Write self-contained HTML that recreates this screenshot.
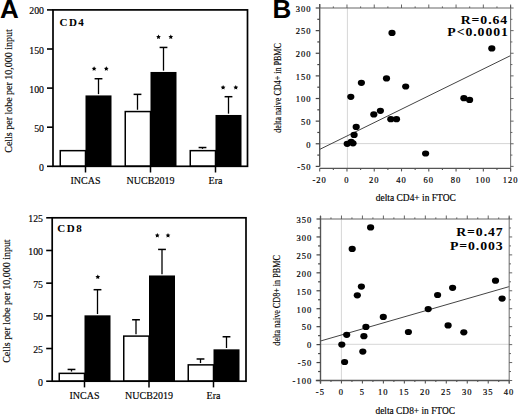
<!DOCTYPE html>
<html><head><meta charset="utf-8"><style>
html,body{margin:0;padding:0;background:#fff;width:520px;height:415px;overflow:hidden}
svg{display:block}
</style></head><body>
<svg width="520" height="415" viewBox="0 0 520 415">
<rect width="520" height="415" fill="#fff"/>
<text x="0.00" y="18.00" text-anchor="start" style="font-family:'Liberation Sans',sans-serif;font-size:26px;font-weight:700" fill="#000">A</text>
<text x="272.60" y="18.20" text-anchor="start" style="font-family:'Liberation Sans',sans-serif;font-size:26px;font-weight:700" fill="#000">B</text>
<line x1="98.50" y1="94.12" x2="98.50" y2="78.72" stroke="#000" stroke-width="1.3"/>
<line x1="94.60" y1="78.72" x2="102.40" y2="78.72" stroke="#000" stroke-width="1.5"/>
<rect x="60.25" y="150.66" width="25.25" height="15.64" fill="#fff" stroke="#000" stroke-width="1.5"/>
<rect x="85.50" y="95.42" width="26.00" height="70.88" fill="#000"/>
<line x1="85.50" y1="166.30" x2="85.50" y2="172.50" stroke="#000" stroke-width="1.5"/>
<text x="85.50" y="183.80" text-anchor="middle" style="font-family:'Liberation Serif',serif;font-size:10px;font-weight:400" fill="#000" stroke="#000" stroke-width="0.15">INCAS</text>
<line x1="137.50" y1="109.76" x2="137.50" y2="94.36" stroke="#000" stroke-width="1.3"/>
<line x1="133.60" y1="94.36" x2="141.40" y2="94.36" stroke="#000" stroke-width="1.5"/>
<line x1="163.50" y1="70.66" x2="163.50" y2="47.44" stroke="#000" stroke-width="1.3"/>
<line x1="159.60" y1="47.44" x2="167.40" y2="47.44" stroke="#000" stroke-width="1.5"/>
<rect x="125.25" y="111.56" width="25.25" height="54.74" fill="#fff" stroke="#000" stroke-width="1.5"/>
<rect x="150.50" y="71.96" width="26.00" height="94.34" fill="#000"/>
<line x1="150.50" y1="166.30" x2="150.50" y2="172.50" stroke="#000" stroke-width="1.5"/>
<text x="150.50" y="183.80" text-anchor="middle" style="font-family:'Liberation Serif',serif;font-size:10px;font-weight:400" fill="#000" stroke="#000" stroke-width="0.15">NUCB2019</text>
<line x1="202.50" y1="148.86" x2="202.50" y2="147.53" stroke="#000" stroke-width="1.3"/>
<line x1="198.60" y1="147.53" x2="206.40" y2="147.53" stroke="#000" stroke-width="1.5"/>
<line x1="228.50" y1="113.67" x2="228.50" y2="96.70" stroke="#000" stroke-width="1.3"/>
<line x1="224.60" y1="96.70" x2="232.40" y2="96.70" stroke="#000" stroke-width="1.5"/>
<rect x="190.25" y="150.66" width="25.25" height="15.64" fill="#fff" stroke="#000" stroke-width="1.5"/>
<rect x="215.50" y="114.97" width="26.00" height="51.33" fill="#000"/>
<line x1="215.50" y1="166.30" x2="215.50" y2="172.50" stroke="#000" stroke-width="1.5"/>
<text x="215.50" y="183.80" text-anchor="middle" style="font-family:'Liberation Serif',serif;font-size:10px;font-weight:400" fill="#000" stroke="#000" stroke-width="0.15">Era</text>
<polygon points="94.10,66.20 94.83,67.69 96.48,67.93 95.29,69.09 95.57,70.72 94.10,69.95 92.63,70.72 92.91,69.09 91.72,67.93 93.37,67.69" fill="#000"/>
<polygon points="106.30,66.20 107.03,67.69 108.68,67.93 107.49,69.09 107.77,70.72 106.30,69.95 104.83,70.72 105.11,69.09 103.92,67.93 105.57,67.69" fill="#000"/>
<polygon points="158.50,34.40 159.23,35.89 160.88,36.13 159.69,37.29 159.97,38.92 158.50,38.15 157.03,38.92 157.31,37.29 156.12,36.13 157.77,35.89" fill="#000"/>
<polygon points="170.80,34.40 171.53,35.89 173.18,36.13 171.99,37.29 172.27,38.92 170.80,38.15 169.33,38.92 169.61,37.29 168.42,36.13 170.07,35.89" fill="#000"/>
<polygon points="223.10,85.10 223.83,86.59 225.48,86.83 224.29,87.99 224.57,89.62 223.10,88.85 221.63,89.62 221.91,87.99 220.72,86.83 222.37,86.59" fill="#000"/>
<polygon points="235.80,85.10 236.53,86.59 238.18,86.83 236.99,87.99 237.27,89.62 235.80,88.85 234.33,89.62 234.61,87.99 233.42,86.83 235.07,86.59" fill="#000"/>
<rect x="53.00" y="9.90" width="194.50" height="156.40" fill="none" stroke="#000" stroke-width="1.7"/>
<line x1="47.00" y1="166.30" x2="53.00" y2="166.30" stroke="#000" stroke-width="1.6"/>
<text x="44.00" y="170.80" text-anchor="end" style="font-family:'Liberation Serif',serif;font-size:9.8px;font-weight:400" fill="#000" stroke="#000" stroke-width="0.15">0</text>
<line x1="47.00" y1="127.20" x2="53.00" y2="127.20" stroke="#000" stroke-width="1.6"/>
<text x="44.00" y="131.70" text-anchor="end" style="font-family:'Liberation Serif',serif;font-size:9.8px;font-weight:400" fill="#000" stroke="#000" stroke-width="0.15">50</text>
<line x1="47.00" y1="88.10" x2="53.00" y2="88.10" stroke="#000" stroke-width="1.6"/>
<text x="44.00" y="92.60" text-anchor="end" style="font-family:'Liberation Serif',serif;font-size:9.8px;font-weight:400" fill="#000" stroke="#000" stroke-width="0.15">100</text>
<line x1="47.00" y1="49.00" x2="53.00" y2="49.00" stroke="#000" stroke-width="1.6"/>
<text x="44.00" y="53.50" text-anchor="end" style="font-family:'Liberation Serif',serif;font-size:9.8px;font-weight:400" fill="#000" stroke="#000" stroke-width="0.15">150</text>
<line x1="47.00" y1="9.90" x2="53.00" y2="9.90" stroke="#000" stroke-width="1.6"/>
<text x="44.00" y="14.40" text-anchor="end" style="font-family:'Liberation Serif',serif;font-size:9.8px;font-weight:400" fill="#000" stroke="#000" stroke-width="0.15">200</text>
<text x="59.50" y="26.20" text-anchor="start" style="font-family:'Liberation Serif',serif;font-size:11px;font-weight:700" fill="#000" textLength="24.3" lengthAdjust="spacing">CD4</text>
<text transform="translate(12.20,91.00) rotate(-90)" x="0" y="0" text-anchor="middle" style="font-family:'Liberation Serif',serif;font-size:10px" fill="#000" stroke="#000" stroke-width="0.15" textLength="123.5" lengthAdjust="spacingAndGlyphs">Cells per lobe per 10,000 input</text>
<line x1="71.50" y1="371.56" x2="71.50" y2="369.44" stroke="#000" stroke-width="1.3"/>
<line x1="67.60" y1="369.44" x2="75.40" y2="369.44" stroke="#000" stroke-width="1.5"/>
<line x1="97.50" y1="314.04" x2="97.50" y2="289.70" stroke="#000" stroke-width="1.3"/>
<line x1="93.60" y1="289.70" x2="101.40" y2="289.70" stroke="#000" stroke-width="1.5"/>
<rect x="59.25" y="373.36" width="25.25" height="7.84" fill="#fff" stroke="#000" stroke-width="1.5"/>
<rect x="84.50" y="315.34" width="26.00" height="65.86" fill="#000"/>
<line x1="84.50" y1="381.20" x2="84.50" y2="387.40" stroke="#000" stroke-width="1.5"/>
<text x="84.50" y="399.40" text-anchor="middle" style="font-family:'Liberation Serif',serif;font-size:10px;font-weight:400" fill="#000" stroke="#000" stroke-width="0.15">INCAS</text>
<line x1="136.00" y1="334.30" x2="136.00" y2="319.76" stroke="#000" stroke-width="1.3"/>
<line x1="132.10" y1="319.76" x2="139.90" y2="319.76" stroke="#000" stroke-width="1.5"/>
<line x1="162.00" y1="274.17" x2="162.00" y2="249.43" stroke="#000" stroke-width="1.3"/>
<line x1="158.10" y1="249.43" x2="165.90" y2="249.43" stroke="#000" stroke-width="1.5"/>
<rect x="123.75" y="336.10" width="25.25" height="45.10" fill="#fff" stroke="#000" stroke-width="1.5"/>
<rect x="149.00" y="275.47" width="26.00" height="105.73" fill="#000"/>
<line x1="149.00" y1="381.20" x2="149.00" y2="387.40" stroke="#000" stroke-width="1.5"/>
<text x="149.00" y="399.40" text-anchor="middle" style="font-family:'Liberation Serif',serif;font-size:10px;font-weight:400" fill="#000" stroke="#000" stroke-width="0.15">NUCB2019</text>
<line x1="200.50" y1="363.06" x2="200.50" y2="358.98" stroke="#000" stroke-width="1.3"/>
<line x1="196.60" y1="358.98" x2="204.40" y2="358.98" stroke="#000" stroke-width="1.5"/>
<line x1="226.50" y1="348.03" x2="226.50" y2="336.76" stroke="#000" stroke-width="1.3"/>
<line x1="222.60" y1="336.76" x2="230.40" y2="336.76" stroke="#000" stroke-width="1.5"/>
<rect x="188.25" y="364.86" width="25.25" height="16.34" fill="#fff" stroke="#000" stroke-width="1.5"/>
<rect x="213.50" y="349.33" width="26.00" height="31.87" fill="#000"/>
<line x1="213.50" y1="381.20" x2="213.50" y2="387.40" stroke="#000" stroke-width="1.5"/>
<text x="213.50" y="399.40" text-anchor="middle" style="font-family:'Liberation Serif',serif;font-size:10px;font-weight:400" fill="#000" stroke="#000" stroke-width="0.15">Era</text>
<polygon points="97.80,274.50 98.53,275.99 100.18,276.23 98.99,277.39 99.27,279.02 97.80,278.25 96.33,279.02 96.61,277.39 95.42,276.23 97.07,275.99" fill="#000"/>
<polygon points="157.30,232.90 158.03,234.39 159.68,234.63 158.49,235.79 158.77,237.42 157.30,236.65 155.83,237.42 156.11,235.79 154.92,234.63 156.57,234.39" fill="#000"/>
<polygon points="168.00,232.90 168.73,234.39 170.38,234.63 169.19,235.79 169.47,237.42 168.00,236.65 166.53,237.42 166.81,235.79 165.62,234.63 167.27,234.39" fill="#000"/>
<rect x="52.20" y="217.80" width="193.80" height="163.40" fill="none" stroke="#000" stroke-width="1.7"/>
<line x1="46.20" y1="381.20" x2="52.20" y2="381.20" stroke="#000" stroke-width="1.6"/>
<text x="43.00" y="385.70" text-anchor="end" style="font-family:'Liberation Serif',serif;font-size:9.8px;font-weight:400" fill="#000" stroke="#000" stroke-width="0.15">0</text>
<line x1="46.20" y1="348.52" x2="52.20" y2="348.52" stroke="#000" stroke-width="1.6"/>
<text x="43.00" y="353.02" text-anchor="end" style="font-family:'Liberation Serif',serif;font-size:9.8px;font-weight:400" fill="#000" stroke="#000" stroke-width="0.15">25</text>
<line x1="46.20" y1="315.84" x2="52.20" y2="315.84" stroke="#000" stroke-width="1.6"/>
<text x="43.00" y="320.34" text-anchor="end" style="font-family:'Liberation Serif',serif;font-size:9.8px;font-weight:400" fill="#000" stroke="#000" stroke-width="0.15">50</text>
<line x1="46.20" y1="283.16" x2="52.20" y2="283.16" stroke="#000" stroke-width="1.6"/>
<text x="43.00" y="287.66" text-anchor="end" style="font-family:'Liberation Serif',serif;font-size:9.8px;font-weight:400" fill="#000" stroke="#000" stroke-width="0.15">75</text>
<line x1="46.20" y1="250.48" x2="52.20" y2="250.48" stroke="#000" stroke-width="1.6"/>
<text x="43.00" y="254.98" text-anchor="end" style="font-family:'Liberation Serif',serif;font-size:9.8px;font-weight:400" fill="#000" stroke="#000" stroke-width="0.15">100</text>
<line x1="46.20" y1="217.80" x2="52.20" y2="217.80" stroke="#000" stroke-width="1.6"/>
<text x="43.00" y="222.30" text-anchor="end" style="font-family:'Liberation Serif',serif;font-size:9.8px;font-weight:400" fill="#000" stroke="#000" stroke-width="0.15">125</text>
<text x="57.30" y="231.50" text-anchor="start" style="font-family:'Liberation Serif',serif;font-size:11px;font-weight:700" fill="#000" textLength="24.5" lengthAdjust="spacing">CD8</text>
<text transform="translate(9.60,301.10) rotate(-90)" x="0" y="0" text-anchor="middle" style="font-family:'Liberation Serif',serif;font-size:10px" fill="#000" stroke="#000" stroke-width="0.15" textLength="123.5" lengthAdjust="spacingAndGlyphs">Cells per lobe per 10,000 input</text>
<line x1="347.40" y1="8.00" x2="347.40" y2="168.40" stroke="#d6d6d6" stroke-width="1"/>
<line x1="319.70" y1="143.60" x2="510.60" y2="143.60" stroke="#d6d6d6" stroke-width="1"/>
<line x1="319.70" y1="149.40" x2="510.60" y2="55.60" stroke="#444" stroke-width="1"/>
<ellipse cx="392.00" cy="32.90" rx="3.6" ry="3.1" fill="#000"/>
<ellipse cx="361.40" cy="82.80" rx="3.6" ry="3.1" fill="#000"/>
<ellipse cx="386.50" cy="78.40" rx="3.6" ry="3.1" fill="#000"/>
<ellipse cx="405.70" cy="86.50" rx="3.6" ry="3.1" fill="#000"/>
<ellipse cx="350.80" cy="96.80" rx="3.6" ry="3.1" fill="#000"/>
<ellipse cx="373.80" cy="114.40" rx="3.6" ry="3.1" fill="#000"/>
<ellipse cx="380.40" cy="110.80" rx="3.6" ry="3.1" fill="#000"/>
<ellipse cx="390.80" cy="119.20" rx="3.6" ry="3.1" fill="#000"/>
<ellipse cx="396.50" cy="119.20" rx="3.6" ry="3.1" fill="#000"/>
<ellipse cx="356.20" cy="126.90" rx="3.6" ry="3.1" fill="#000"/>
<ellipse cx="354.10" cy="134.90" rx="3.6" ry="3.1" fill="#000"/>
<ellipse cx="347.20" cy="143.80" rx="3.6" ry="3.1" fill="#000"/>
<ellipse cx="351.20" cy="141.90" rx="3.6" ry="3.1" fill="#000"/>
<ellipse cx="353.00" cy="143.30" rx="3.6" ry="3.1" fill="#000"/>
<ellipse cx="425.60" cy="153.50" rx="3.6" ry="3.1" fill="#000"/>
<ellipse cx="491.80" cy="48.40" rx="3.6" ry="3.1" fill="#000"/>
<ellipse cx="463.90" cy="98.20" rx="3.6" ry="3.1" fill="#000"/>
<ellipse cx="469.60" cy="99.90" rx="3.6" ry="3.1" fill="#000"/>
<line x1="319.70" y1="4.00" x2="319.70" y2="166.40" stroke="#555" stroke-width="1.4"/>
<line x1="319.70" y1="8.00" x2="510.60" y2="8.00" stroke="#666" stroke-width="1.2"/>
<line x1="510.60" y1="5.50" x2="510.60" y2="171.40" stroke="#777" stroke-width="1.1"/>
<line x1="319.50" y1="168.40" x2="510.60" y2="168.40" stroke="#555" stroke-width="1.4"/>
<line x1="315.70" y1="166.40" x2="319.70" y2="166.40" stroke="#444" stroke-width="1.2"/>
<line x1="510.60" y1="166.40" x2="513.60" y2="166.40" stroke="#555" stroke-width="0.9"/>
<text x="311.50" y="170.20" text-anchor="end" style="font-family:'Liberation Serif',serif;font-size:8.5px;font-weight:400;letter-spacing:1.0px" fill="#000" stroke="#000" stroke-width="0.18">-50</text>
<line x1="317.30" y1="155.09" x2="319.70" y2="155.09" stroke="#444" stroke-width="1.2"/>
<line x1="510.60" y1="155.09" x2="512.40" y2="155.09" stroke="#555" stroke-width="0.9"/>
<line x1="315.70" y1="143.77" x2="319.70" y2="143.77" stroke="#444" stroke-width="1.2"/>
<line x1="510.60" y1="143.77" x2="513.60" y2="143.77" stroke="#555" stroke-width="0.9"/>
<text x="311.50" y="147.57" text-anchor="end" style="font-family:'Liberation Serif',serif;font-size:8.5px;font-weight:400;letter-spacing:1.0px" fill="#000" stroke="#000" stroke-width="0.18">0</text>
<line x1="317.30" y1="132.46" x2="319.70" y2="132.46" stroke="#444" stroke-width="1.2"/>
<line x1="510.60" y1="132.46" x2="512.40" y2="132.46" stroke="#555" stroke-width="0.9"/>
<line x1="315.70" y1="121.14" x2="319.70" y2="121.14" stroke="#444" stroke-width="1.2"/>
<line x1="510.60" y1="121.14" x2="513.60" y2="121.14" stroke="#555" stroke-width="0.9"/>
<text x="311.50" y="124.94" text-anchor="end" style="font-family:'Liberation Serif',serif;font-size:8.5px;font-weight:400;letter-spacing:1.0px" fill="#000" stroke="#000" stroke-width="0.18">50</text>
<line x1="317.30" y1="109.83" x2="319.70" y2="109.83" stroke="#444" stroke-width="1.2"/>
<line x1="510.60" y1="109.83" x2="512.40" y2="109.83" stroke="#555" stroke-width="0.9"/>
<line x1="315.70" y1="98.51" x2="319.70" y2="98.51" stroke="#444" stroke-width="1.2"/>
<line x1="510.60" y1="98.51" x2="513.60" y2="98.51" stroke="#555" stroke-width="0.9"/>
<text x="311.50" y="102.31" text-anchor="end" style="font-family:'Liberation Serif',serif;font-size:8.5px;font-weight:400;letter-spacing:1.0px" fill="#000" stroke="#000" stroke-width="0.18">100</text>
<line x1="317.30" y1="87.20" x2="319.70" y2="87.20" stroke="#444" stroke-width="1.2"/>
<line x1="510.60" y1="87.20" x2="512.40" y2="87.20" stroke="#555" stroke-width="0.9"/>
<line x1="315.70" y1="75.89" x2="319.70" y2="75.89" stroke="#444" stroke-width="1.2"/>
<line x1="510.60" y1="75.89" x2="513.60" y2="75.89" stroke="#555" stroke-width="0.9"/>
<text x="311.50" y="79.69" text-anchor="end" style="font-family:'Liberation Serif',serif;font-size:8.5px;font-weight:400;letter-spacing:1.0px" fill="#000" stroke="#000" stroke-width="0.18">150</text>
<line x1="317.30" y1="64.57" x2="319.70" y2="64.57" stroke="#444" stroke-width="1.2"/>
<line x1="510.60" y1="64.57" x2="512.40" y2="64.57" stroke="#555" stroke-width="0.9"/>
<line x1="315.70" y1="53.26" x2="319.70" y2="53.26" stroke="#444" stroke-width="1.2"/>
<line x1="510.60" y1="53.26" x2="513.60" y2="53.26" stroke="#555" stroke-width="0.9"/>
<text x="311.50" y="57.06" text-anchor="end" style="font-family:'Liberation Serif',serif;font-size:8.5px;font-weight:400;letter-spacing:1.0px" fill="#000" stroke="#000" stroke-width="0.18">200</text>
<line x1="317.30" y1="41.94" x2="319.70" y2="41.94" stroke="#444" stroke-width="1.2"/>
<line x1="510.60" y1="41.94" x2="512.40" y2="41.94" stroke="#555" stroke-width="0.9"/>
<line x1="315.70" y1="30.63" x2="319.70" y2="30.63" stroke="#444" stroke-width="1.2"/>
<line x1="510.60" y1="30.63" x2="513.60" y2="30.63" stroke="#555" stroke-width="0.9"/>
<text x="311.50" y="34.43" text-anchor="end" style="font-family:'Liberation Serif',serif;font-size:8.5px;font-weight:400;letter-spacing:1.0px" fill="#000" stroke="#000" stroke-width="0.18">250</text>
<line x1="317.30" y1="19.31" x2="319.70" y2="19.31" stroke="#444" stroke-width="1.2"/>
<line x1="510.60" y1="19.31" x2="512.40" y2="19.31" stroke="#555" stroke-width="0.9"/>
<line x1="315.70" y1="8.00" x2="319.70" y2="8.00" stroke="#444" stroke-width="1.2"/>
<line x1="510.60" y1="8.00" x2="513.60" y2="8.00" stroke="#555" stroke-width="0.9"/>
<text x="311.50" y="11.80" text-anchor="end" style="font-family:'Liberation Serif',serif;font-size:8.5px;font-weight:400;letter-spacing:1.0px" fill="#000" stroke="#000" stroke-width="0.18">300</text>
<line x1="319.70" y1="168.40" x2="319.70" y2="171.40" stroke="#555" stroke-width="1.1"/>
<line x1="319.70" y1="8.00" x2="319.70" y2="4.50" stroke="#555" stroke-width="0.9"/>
<text x="319.60" y="183.10" text-anchor="middle" style="font-family:'Liberation Serif',serif;font-size:8.5px;font-weight:400;letter-spacing:1.0px" fill="#000" stroke="#000" stroke-width="0.18">-20</text>
<line x1="333.34" y1="168.40" x2="333.34" y2="170.00" stroke="#555" stroke-width="1.1"/>
<line x1="333.34" y1="8.00" x2="333.34" y2="6.40" stroke="#555" stroke-width="0.9"/>
<line x1="346.97" y1="168.40" x2="346.97" y2="171.40" stroke="#555" stroke-width="1.1"/>
<line x1="346.97" y1="8.00" x2="346.97" y2="4.50" stroke="#555" stroke-width="0.9"/>
<text x="346.87" y="183.10" text-anchor="middle" style="font-family:'Liberation Serif',serif;font-size:8.5px;font-weight:400;letter-spacing:1.0px" fill="#000" stroke="#000" stroke-width="0.18">0</text>
<line x1="360.61" y1="168.40" x2="360.61" y2="170.00" stroke="#555" stroke-width="1.1"/>
<line x1="360.61" y1="8.00" x2="360.61" y2="6.40" stroke="#555" stroke-width="0.9"/>
<line x1="374.24" y1="168.40" x2="374.24" y2="171.40" stroke="#555" stroke-width="1.1"/>
<line x1="374.24" y1="8.00" x2="374.24" y2="4.50" stroke="#555" stroke-width="0.9"/>
<text x="374.14" y="183.10" text-anchor="middle" style="font-family:'Liberation Serif',serif;font-size:8.5px;font-weight:400;letter-spacing:1.0px" fill="#000" stroke="#000" stroke-width="0.18">20</text>
<line x1="387.88" y1="168.40" x2="387.88" y2="170.00" stroke="#555" stroke-width="1.1"/>
<line x1="387.88" y1="8.00" x2="387.88" y2="6.40" stroke="#555" stroke-width="0.9"/>
<line x1="401.51" y1="168.40" x2="401.51" y2="171.40" stroke="#555" stroke-width="1.1"/>
<line x1="401.51" y1="8.00" x2="401.51" y2="4.50" stroke="#555" stroke-width="0.9"/>
<text x="401.41" y="183.10" text-anchor="middle" style="font-family:'Liberation Serif',serif;font-size:8.5px;font-weight:400;letter-spacing:1.0px" fill="#000" stroke="#000" stroke-width="0.18">40</text>
<line x1="415.15" y1="168.40" x2="415.15" y2="170.00" stroke="#555" stroke-width="1.1"/>
<line x1="415.15" y1="8.00" x2="415.15" y2="6.40" stroke="#555" stroke-width="0.9"/>
<line x1="428.79" y1="168.40" x2="428.79" y2="171.40" stroke="#555" stroke-width="1.1"/>
<line x1="428.79" y1="8.00" x2="428.79" y2="4.50" stroke="#555" stroke-width="0.9"/>
<text x="428.69" y="183.10" text-anchor="middle" style="font-family:'Liberation Serif',serif;font-size:8.5px;font-weight:400;letter-spacing:1.0px" fill="#000" stroke="#000" stroke-width="0.18">60</text>
<line x1="442.42" y1="168.40" x2="442.42" y2="170.00" stroke="#555" stroke-width="1.1"/>
<line x1="442.42" y1="8.00" x2="442.42" y2="6.40" stroke="#555" stroke-width="0.9"/>
<line x1="456.06" y1="168.40" x2="456.06" y2="171.40" stroke="#555" stroke-width="1.1"/>
<line x1="456.06" y1="8.00" x2="456.06" y2="4.50" stroke="#555" stroke-width="0.9"/>
<text x="455.96" y="183.10" text-anchor="middle" style="font-family:'Liberation Serif',serif;font-size:8.5px;font-weight:400;letter-spacing:1.0px" fill="#000" stroke="#000" stroke-width="0.18">80</text>
<line x1="469.69" y1="168.40" x2="469.69" y2="170.00" stroke="#555" stroke-width="1.1"/>
<line x1="469.69" y1="8.00" x2="469.69" y2="6.40" stroke="#555" stroke-width="0.9"/>
<line x1="483.33" y1="168.40" x2="483.33" y2="171.40" stroke="#555" stroke-width="1.1"/>
<line x1="483.33" y1="8.00" x2="483.33" y2="4.50" stroke="#555" stroke-width="0.9"/>
<text x="483.23" y="183.10" text-anchor="middle" style="font-family:'Liberation Serif',serif;font-size:8.5px;font-weight:400;letter-spacing:1.0px" fill="#000" stroke="#000" stroke-width="0.18">100</text>
<line x1="496.96" y1="168.40" x2="496.96" y2="170.00" stroke="#555" stroke-width="1.1"/>
<line x1="496.96" y1="8.00" x2="496.96" y2="6.40" stroke="#555" stroke-width="0.9"/>
<line x1="510.60" y1="168.40" x2="510.60" y2="171.40" stroke="#555" stroke-width="1.1"/>
<line x1="510.60" y1="8.00" x2="510.60" y2="4.50" stroke="#555" stroke-width="0.9"/>
<text x="510.50" y="183.10" text-anchor="middle" style="font-family:'Liberation Serif',serif;font-size:8.5px;font-weight:400;letter-spacing:1.0px" fill="#000" stroke="#000" stroke-width="0.18">120</text>
<text x="375.70" y="200.80" text-anchor="start" style="font-family:'Liberation Serif',serif;font-size:9.3px;font-weight:400" fill="#000" stroke="#000" stroke-width="0.15" textLength="80.2" lengthAdjust="spacingAndGlyphs">delta CD4+ in FTOC</text>
<text transform="translate(281.00,87.90) rotate(-90)" x="0" y="0" text-anchor="middle" style="font-family:'Liberation Serif',serif;font-size:10px" fill="#000" stroke="#000" stroke-width="0.15" textLength="89.5" lengthAdjust="spacingAndGlyphs">delta naive CD4+ in PBMC</text>
<g transform="translate(508.11,23.80) scale(1.07,1)"><text x="0" y="0" text-anchor="end" style="font-family:'Liberation Serif',serif;font-size:12.9px;font-weight:700;letter-spacing:0.85px" fill="#000">R=0.64</text></g>
<g transform="translate(508.81,35.90) scale(1.07,1)"><text x="0" y="0" text-anchor="end" style="font-family:'Liberation Serif',serif;font-size:12.9px;font-weight:700;letter-spacing:0.85px" fill="#000">P&lt;0.0001</text></g>
<line x1="341.40" y1="219.00" x2="341.40" y2="380.50" stroke="#d6d6d6" stroke-width="1"/>
<line x1="320.50" y1="344.30" x2="509.20" y2="344.30" stroke="#d6d6d6" stroke-width="1"/>
<line x1="320.50" y1="341.00" x2="509.20" y2="286.60" stroke="#444" stroke-width="1"/>
<ellipse cx="370.60" cy="227.40" rx="3.6" ry="3.1" fill="#000"/>
<ellipse cx="352.20" cy="248.90" rx="3.6" ry="3.1" fill="#000"/>
<ellipse cx="361.40" cy="286.60" rx="3.6" ry="3.1" fill="#000"/>
<ellipse cx="357.30" cy="295.30" rx="3.6" ry="3.1" fill="#000"/>
<ellipse cx="383.30" cy="316.90" rx="3.6" ry="3.1" fill="#000"/>
<ellipse cx="365.90" cy="326.90" rx="3.6" ry="3.1" fill="#000"/>
<ellipse cx="346.70" cy="334.80" rx="3.6" ry="3.1" fill="#000"/>
<ellipse cx="363.90" cy="336.20" rx="3.6" ry="3.1" fill="#000"/>
<ellipse cx="341.80" cy="344.60" rx="3.6" ry="3.1" fill="#000"/>
<ellipse cx="362.80" cy="351.60" rx="3.6" ry="3.1" fill="#000"/>
<ellipse cx="344.60" cy="362.00" rx="3.6" ry="3.1" fill="#000"/>
<ellipse cx="428.20" cy="309.10" rx="3.6" ry="3.1" fill="#000"/>
<ellipse cx="437.60" cy="295.00" rx="3.6" ry="3.1" fill="#000"/>
<ellipse cx="452.60" cy="287.80" rx="3.6" ry="3.1" fill="#000"/>
<ellipse cx="408.40" cy="332.00" rx="3.6" ry="3.1" fill="#000"/>
<ellipse cx="448.10" cy="325.40" rx="3.6" ry="3.1" fill="#000"/>
<ellipse cx="463.80" cy="332.30" rx="3.6" ry="3.1" fill="#000"/>
<ellipse cx="495.50" cy="280.70" rx="3.6" ry="3.1" fill="#000"/>
<ellipse cx="502.10" cy="298.60" rx="3.6" ry="3.1" fill="#000"/>
<line x1="320.50" y1="216.00" x2="320.50" y2="383.60" stroke="#555" stroke-width="1.4"/>
<line x1="320.50" y1="219.00" x2="509.20" y2="219.00" stroke="#666" stroke-width="1.2"/>
<line x1="509.20" y1="216.50" x2="509.20" y2="383.80" stroke="#777" stroke-width="1.1"/>
<line x1="315.80" y1="380.50" x2="509.20" y2="380.50" stroke="#555" stroke-width="1.4"/>
<line x1="316.50" y1="380.50" x2="320.50" y2="380.50" stroke="#444" stroke-width="1.2"/>
<line x1="509.20" y1="380.50" x2="512.20" y2="380.50" stroke="#555" stroke-width="0.9"/>
<text x="312.20" y="384.30" text-anchor="end" style="font-family:'Liberation Serif',serif;font-size:8.5px;font-weight:400;letter-spacing:1.0px" fill="#000" stroke="#000" stroke-width="0.18">-100</text>
<line x1="318.10" y1="371.53" x2="320.50" y2="371.53" stroke="#444" stroke-width="1.2"/>
<line x1="509.20" y1="371.53" x2="511.00" y2="371.53" stroke="#555" stroke-width="0.9"/>
<line x1="316.50" y1="362.56" x2="320.50" y2="362.56" stroke="#444" stroke-width="1.2"/>
<line x1="509.20" y1="362.56" x2="512.20" y2="362.56" stroke="#555" stroke-width="0.9"/>
<text x="312.20" y="366.36" text-anchor="end" style="font-family:'Liberation Serif',serif;font-size:8.5px;font-weight:400;letter-spacing:1.0px" fill="#000" stroke="#000" stroke-width="0.18">-50</text>
<line x1="318.10" y1="353.58" x2="320.50" y2="353.58" stroke="#444" stroke-width="1.2"/>
<line x1="509.20" y1="353.58" x2="511.00" y2="353.58" stroke="#555" stroke-width="0.9"/>
<line x1="316.50" y1="344.61" x2="320.50" y2="344.61" stroke="#444" stroke-width="1.2"/>
<line x1="509.20" y1="344.61" x2="512.20" y2="344.61" stroke="#555" stroke-width="0.9"/>
<text x="312.20" y="348.41" text-anchor="end" style="font-family:'Liberation Serif',serif;font-size:8.5px;font-weight:400;letter-spacing:1.0px" fill="#000" stroke="#000" stroke-width="0.18">0</text>
<line x1="318.10" y1="335.64" x2="320.50" y2="335.64" stroke="#444" stroke-width="1.2"/>
<line x1="509.20" y1="335.64" x2="511.00" y2="335.64" stroke="#555" stroke-width="0.9"/>
<line x1="316.50" y1="326.67" x2="320.50" y2="326.67" stroke="#444" stroke-width="1.2"/>
<line x1="509.20" y1="326.67" x2="512.20" y2="326.67" stroke="#555" stroke-width="0.9"/>
<text x="312.20" y="330.47" text-anchor="end" style="font-family:'Liberation Serif',serif;font-size:8.5px;font-weight:400;letter-spacing:1.0px" fill="#000" stroke="#000" stroke-width="0.18">50</text>
<line x1="318.10" y1="317.69" x2="320.50" y2="317.69" stroke="#444" stroke-width="1.2"/>
<line x1="509.20" y1="317.69" x2="511.00" y2="317.69" stroke="#555" stroke-width="0.9"/>
<line x1="316.50" y1="308.72" x2="320.50" y2="308.72" stroke="#444" stroke-width="1.2"/>
<line x1="509.20" y1="308.72" x2="512.20" y2="308.72" stroke="#555" stroke-width="0.9"/>
<text x="312.20" y="312.52" text-anchor="end" style="font-family:'Liberation Serif',serif;font-size:8.5px;font-weight:400;letter-spacing:1.0px" fill="#000" stroke="#000" stroke-width="0.18">100</text>
<line x1="318.10" y1="299.75" x2="320.50" y2="299.75" stroke="#444" stroke-width="1.2"/>
<line x1="509.20" y1="299.75" x2="511.00" y2="299.75" stroke="#555" stroke-width="0.9"/>
<line x1="316.50" y1="290.78" x2="320.50" y2="290.78" stroke="#444" stroke-width="1.2"/>
<line x1="509.20" y1="290.78" x2="512.20" y2="290.78" stroke="#555" stroke-width="0.9"/>
<text x="312.20" y="294.58" text-anchor="end" style="font-family:'Liberation Serif',serif;font-size:8.5px;font-weight:400;letter-spacing:1.0px" fill="#000" stroke="#000" stroke-width="0.18">150</text>
<line x1="318.10" y1="281.81" x2="320.50" y2="281.81" stroke="#444" stroke-width="1.2"/>
<line x1="509.20" y1="281.81" x2="511.00" y2="281.81" stroke="#555" stroke-width="0.9"/>
<line x1="316.50" y1="272.83" x2="320.50" y2="272.83" stroke="#444" stroke-width="1.2"/>
<line x1="509.20" y1="272.83" x2="512.20" y2="272.83" stroke="#555" stroke-width="0.9"/>
<text x="312.20" y="276.63" text-anchor="end" style="font-family:'Liberation Serif',serif;font-size:8.5px;font-weight:400;letter-spacing:1.0px" fill="#000" stroke="#000" stroke-width="0.18">200</text>
<line x1="318.10" y1="263.86" x2="320.50" y2="263.86" stroke="#444" stroke-width="1.2"/>
<line x1="509.20" y1="263.86" x2="511.00" y2="263.86" stroke="#555" stroke-width="0.9"/>
<line x1="316.50" y1="254.89" x2="320.50" y2="254.89" stroke="#444" stroke-width="1.2"/>
<line x1="509.20" y1="254.89" x2="512.20" y2="254.89" stroke="#555" stroke-width="0.9"/>
<text x="312.20" y="258.69" text-anchor="end" style="font-family:'Liberation Serif',serif;font-size:8.5px;font-weight:400;letter-spacing:1.0px" fill="#000" stroke="#000" stroke-width="0.18">250</text>
<line x1="318.10" y1="245.92" x2="320.50" y2="245.92" stroke="#444" stroke-width="1.2"/>
<line x1="509.20" y1="245.92" x2="511.00" y2="245.92" stroke="#555" stroke-width="0.9"/>
<line x1="316.50" y1="236.94" x2="320.50" y2="236.94" stroke="#444" stroke-width="1.2"/>
<line x1="509.20" y1="236.94" x2="512.20" y2="236.94" stroke="#555" stroke-width="0.9"/>
<text x="312.20" y="240.74" text-anchor="end" style="font-family:'Liberation Serif',serif;font-size:8.5px;font-weight:400;letter-spacing:1.0px" fill="#000" stroke="#000" stroke-width="0.18">300</text>
<line x1="318.10" y1="227.97" x2="320.50" y2="227.97" stroke="#444" stroke-width="1.2"/>
<line x1="509.20" y1="227.97" x2="511.00" y2="227.97" stroke="#555" stroke-width="0.9"/>
<line x1="316.50" y1="219.00" x2="320.50" y2="219.00" stroke="#444" stroke-width="1.2"/>
<line x1="509.20" y1="219.00" x2="512.20" y2="219.00" stroke="#555" stroke-width="0.9"/>
<text x="312.20" y="222.80" text-anchor="end" style="font-family:'Liberation Serif',serif;font-size:8.5px;font-weight:400;letter-spacing:1.0px" fill="#000" stroke="#000" stroke-width="0.18">350</text>
<line x1="320.50" y1="380.50" x2="320.50" y2="383.50" stroke="#555" stroke-width="1.1"/>
<line x1="320.50" y1="219.00" x2="320.50" y2="215.50" stroke="#555" stroke-width="0.9"/>
<text x="320.40" y="395.40" text-anchor="middle" style="font-family:'Liberation Serif',serif;font-size:8.5px;font-weight:400;letter-spacing:1.0px" fill="#000" stroke="#000" stroke-width="0.18">-5</text>
<line x1="330.98" y1="380.50" x2="330.98" y2="382.10" stroke="#555" stroke-width="1.1"/>
<line x1="330.98" y1="219.00" x2="330.98" y2="217.40" stroke="#555" stroke-width="0.9"/>
<line x1="341.47" y1="380.50" x2="341.47" y2="383.50" stroke="#555" stroke-width="1.1"/>
<line x1="341.47" y1="219.00" x2="341.47" y2="215.50" stroke="#555" stroke-width="0.9"/>
<text x="341.37" y="395.40" text-anchor="middle" style="font-family:'Liberation Serif',serif;font-size:8.5px;font-weight:400;letter-spacing:1.0px" fill="#000" stroke="#000" stroke-width="0.18">0</text>
<line x1="351.95" y1="380.50" x2="351.95" y2="382.10" stroke="#555" stroke-width="1.1"/>
<line x1="351.95" y1="219.00" x2="351.95" y2="217.40" stroke="#555" stroke-width="0.9"/>
<line x1="362.43" y1="380.50" x2="362.43" y2="383.50" stroke="#555" stroke-width="1.1"/>
<line x1="362.43" y1="219.00" x2="362.43" y2="215.50" stroke="#555" stroke-width="0.9"/>
<text x="362.33" y="395.40" text-anchor="middle" style="font-family:'Liberation Serif',serif;font-size:8.5px;font-weight:400;letter-spacing:1.0px" fill="#000" stroke="#000" stroke-width="0.18">5</text>
<line x1="372.92" y1="380.50" x2="372.92" y2="382.10" stroke="#555" stroke-width="1.1"/>
<line x1="372.92" y1="219.00" x2="372.92" y2="217.40" stroke="#555" stroke-width="0.9"/>
<line x1="383.40" y1="380.50" x2="383.40" y2="383.50" stroke="#555" stroke-width="1.1"/>
<line x1="383.40" y1="219.00" x2="383.40" y2="215.50" stroke="#555" stroke-width="0.9"/>
<text x="383.30" y="395.40" text-anchor="middle" style="font-family:'Liberation Serif',serif;font-size:8.5px;font-weight:400;letter-spacing:1.0px" fill="#000" stroke="#000" stroke-width="0.18">10</text>
<line x1="393.88" y1="380.50" x2="393.88" y2="382.10" stroke="#555" stroke-width="1.1"/>
<line x1="393.88" y1="219.00" x2="393.88" y2="217.40" stroke="#555" stroke-width="0.9"/>
<line x1="404.37" y1="380.50" x2="404.37" y2="383.50" stroke="#555" stroke-width="1.1"/>
<line x1="404.37" y1="219.00" x2="404.37" y2="215.50" stroke="#555" stroke-width="0.9"/>
<text x="404.27" y="395.40" text-anchor="middle" style="font-family:'Liberation Serif',serif;font-size:8.5px;font-weight:400;letter-spacing:1.0px" fill="#000" stroke="#000" stroke-width="0.18">15</text>
<line x1="414.85" y1="380.50" x2="414.85" y2="382.10" stroke="#555" stroke-width="1.1"/>
<line x1="414.85" y1="219.00" x2="414.85" y2="217.40" stroke="#555" stroke-width="0.9"/>
<line x1="425.33" y1="380.50" x2="425.33" y2="383.50" stroke="#555" stroke-width="1.1"/>
<line x1="425.33" y1="219.00" x2="425.33" y2="215.50" stroke="#555" stroke-width="0.9"/>
<text x="425.23" y="395.40" text-anchor="middle" style="font-family:'Liberation Serif',serif;font-size:8.5px;font-weight:400;letter-spacing:1.0px" fill="#000" stroke="#000" stroke-width="0.18">20</text>
<line x1="435.82" y1="380.50" x2="435.82" y2="382.10" stroke="#555" stroke-width="1.1"/>
<line x1="435.82" y1="219.00" x2="435.82" y2="217.40" stroke="#555" stroke-width="0.9"/>
<line x1="446.30" y1="380.50" x2="446.30" y2="383.50" stroke="#555" stroke-width="1.1"/>
<line x1="446.30" y1="219.00" x2="446.30" y2="215.50" stroke="#555" stroke-width="0.9"/>
<text x="446.20" y="395.40" text-anchor="middle" style="font-family:'Liberation Serif',serif;font-size:8.5px;font-weight:400;letter-spacing:1.0px" fill="#000" stroke="#000" stroke-width="0.18">25</text>
<line x1="456.78" y1="380.50" x2="456.78" y2="382.10" stroke="#555" stroke-width="1.1"/>
<line x1="456.78" y1="219.00" x2="456.78" y2="217.40" stroke="#555" stroke-width="0.9"/>
<line x1="467.27" y1="380.50" x2="467.27" y2="383.50" stroke="#555" stroke-width="1.1"/>
<line x1="467.27" y1="219.00" x2="467.27" y2="215.50" stroke="#555" stroke-width="0.9"/>
<text x="467.17" y="395.40" text-anchor="middle" style="font-family:'Liberation Serif',serif;font-size:8.5px;font-weight:400;letter-spacing:1.0px" fill="#000" stroke="#000" stroke-width="0.18">30</text>
<line x1="477.75" y1="380.50" x2="477.75" y2="382.10" stroke="#555" stroke-width="1.1"/>
<line x1="477.75" y1="219.00" x2="477.75" y2="217.40" stroke="#555" stroke-width="0.9"/>
<line x1="488.23" y1="380.50" x2="488.23" y2="383.50" stroke="#555" stroke-width="1.1"/>
<line x1="488.23" y1="219.00" x2="488.23" y2="215.50" stroke="#555" stroke-width="0.9"/>
<text x="488.13" y="395.40" text-anchor="middle" style="font-family:'Liberation Serif',serif;font-size:8.5px;font-weight:400;letter-spacing:1.0px" fill="#000" stroke="#000" stroke-width="0.18">35</text>
<line x1="498.72" y1="380.50" x2="498.72" y2="382.10" stroke="#555" stroke-width="1.1"/>
<line x1="498.72" y1="219.00" x2="498.72" y2="217.40" stroke="#555" stroke-width="0.9"/>
<line x1="509.20" y1="380.50" x2="509.20" y2="383.50" stroke="#555" stroke-width="1.1"/>
<line x1="509.20" y1="219.00" x2="509.20" y2="215.50" stroke="#555" stroke-width="0.9"/>
<text x="509.10" y="395.40" text-anchor="middle" style="font-family:'Liberation Serif',serif;font-size:8.5px;font-weight:400;letter-spacing:1.0px" fill="#000" stroke="#000" stroke-width="0.18">40</text>
<text x="375.50" y="414.40" text-anchor="start" style="font-family:'Liberation Serif',serif;font-size:9.3px;font-weight:400" fill="#000" stroke="#000" stroke-width="0.15" textLength="79.5" lengthAdjust="spacingAndGlyphs">delta CD8+ in FTOC</text>
<text transform="translate(279.70,300.40) rotate(-90)" x="0" y="0" text-anchor="middle" style="font-family:'Liberation Serif',serif;font-size:10px" fill="#000" stroke="#000" stroke-width="0.15" textLength="90.5" lengthAdjust="spacingAndGlyphs">delta naive CD8+ in PBMC</text>
<g transform="translate(503.61,236.00) scale(1.07,1)"><text x="0" y="0" text-anchor="end" style="font-family:'Liberation Serif',serif;font-size:12.9px;font-weight:700;letter-spacing:0.85px" fill="#000">R=0.47</text></g>
<g transform="translate(503.61,250.20) scale(1.07,1)"><text x="0" y="0" text-anchor="end" style="font-family:'Liberation Serif',serif;font-size:12.9px;font-weight:700;letter-spacing:0.85px" fill="#000">P=0.003</text></g>
</svg>
</body></html>
